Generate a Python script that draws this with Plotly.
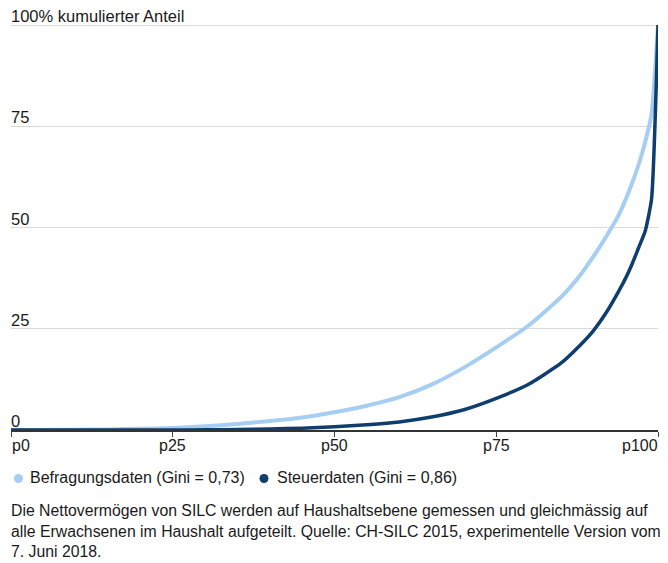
import plotly.graph_objects as go

# ---- data ----
percentiles = [0, 5, 10, 15, 20, 25, 30, 35, 40, 45, 50, 55, 60, 65, 70, 75, 80, 85, 88, 90, 92, 94, 95, 96, 97, 98, 99, 100]
befragung = [0, 0.02, 0.06, 0.15, 0.3, 0.5, 0.9, 1.5, 2.2, 3.1, 4.4, 6.0, 8.1, 11.2, 15.4, 20.4, 25.8, 32.8, 38.3, 42.8, 47.8, 53.3, 56.9, 61.0, 65.5, 71.0, 78.0, 100]
steuer = [0, 0, 0, 0, 0, 0, 0.05, 0.12, 0.25, 0.45, 0.8, 1.3, 2.0, 3.2, 5.0, 7.8, 11.3, 16.5, 21.0, 24.5, 29.0, 34.5, 37.5, 41.0, 45.0, 49.0, 57.0, 100]

x_tickvals = [0, 25, 50, 75, 100]
x_ticktext = ["p0", "p25", "p50", "p75", "p100"]
y_tickvals = [0, 25, 50, 75, 100]
y_ticktext = ["0", "25", "50", "75", "100% kumulierter Anteil"]

series_names = ["Befragungsdaten (Gini = 0,73)", "Steuerdaten (Gini = 0,86)"]
caption = ("Die Nettovermögen von SILC werden auf Haushaltsebene gemessen und gleichmässig auf<br>"
           "alle Erwachsenen im Haushalt aufgeteilt. Quelle: CH-SILC 2015, experimentelle Version vom<br>"
           "7. Juni 2018.")

# ---- style ----
LIGHT = "#a6cef3"
DARK = "#0f3e6e"
TEXT = "#1a1a1a"
FONT = "Liberation Sans, Arial, sans-serif"
OFF = 8                      # page body margin
W, H = 668 - OFF, 563 - OFF
Y_TOP = 100.5
PX_PER_UNIT = 4.05
ML, MR = 11 - OFF, 10
PH = PX_PER_UNIT * Y_TOP
MB = 133
MT = H - MB - PH
PW = W - ML - MR
ZERO_Y = H - MB             # figure coords of y=0

def px_to_paper_x(px):      # px in reference (window) coordinates
    return (px - OFF - ML) / PW

def px_to_paper_y(py):
    return (ZERO_Y - (py - OFF)) / PH

fig = go.Figure()
fig.add_trace(go.Scatter(x=percentiles, y=befragung, mode="lines",
                         line=dict(color=LIGHT, width=4, shape="spline", smoothing=0.5),
                         name=series_names[0], showlegend=False, hoverinfo="skip"))
fig.add_trace(go.Scatter(x=percentiles, y=steuer, mode="lines",
                         line=dict(color=DARK, width=3.5, shape="spline", smoothing=0.5),
                         name=series_names[1], showlegend=False, hoverinfo="skip"))

annotations = []
for v, t in zip(y_tickvals, y_ticktext):
    annotations.append(dict(x=0, xref="paper", y=v, yref="y", text=t, showarrow=False,
                            xanchor="left", yanchor="bottom", xshift=-2, yshift=-2,
                            font=dict(family=FONT, size=16.5, color=TEXT)))
for i, (v, t) in enumerate(zip(x_tickvals, x_ticktext)):
    anchor = "left" if i == 0 else ("right" if i == len(x_tickvals) - 1 else "center")
    annotations.append(dict(x=v, xref="x", y=0, yref="paper", text=t, showarrow=False,
                            xanchor=anchor, yanchor="top", yshift=-5,
                            xshift=(-1 if i == 0 else (2 if anchor == "right" else 0)),
                            font=dict(family=FONT, size=16, color=TEXT)))

legend_items = [(18.5, 28, LIGHT), (264, 275, DARK)]
shapes = []
for (dot_px, text_px, col), name in zip(legend_items, series_names):
    shapes.append(dict(type="circle", xref="paper", yref="paper",
                       xsizemode="pixel", ysizemode="pixel",
                       xanchor=px_to_paper_x(dot_px), yanchor=px_to_paper_y(478.5),
                       x0=-4.5, x1=4.5, y0=-4.5, y1=4.5,
                       fillcolor=col, line=dict(width=0)))
    annotations.append(dict(x=px_to_paper_x(text_px), xref="paper", y=px_to_paper_y(478), yref="paper",
                            text=name, showarrow=False, xanchor="left", yanchor="middle",
                            font=dict(family=FONT, size=16, color=TEXT)))

annotations.append(dict(x=px_to_paper_x(9), xref="paper", y=px_to_paper_y(500), yref="paper",
                        text=caption, showarrow=False, xanchor="left", yanchor="top", align="left",
                        font=dict(family=FONT, size=15.8, color=TEXT)))

fig.update_layout(
    width=W, height=H,
    margin=dict(l=ML, r=MR, t=MT, b=MB, autoexpand=False),
    paper_bgcolor="white", plot_bgcolor="white",
    showlegend=False,
    xaxis=dict(range=[0, 100], tickvals=x_tickvals, showticklabels=False,
               ticks="outside", ticklen=5, tickcolor="#444", tickwidth=1,
               showline=True, linecolor="#333", linewidth=1.5,
               showgrid=False, zeroline=False, fixedrange=True),
    yaxis=dict(range=[0, Y_TOP], tickvals=y_tickvals, showticklabels=False,
               showgrid=True, gridcolor="#d9d9d9", gridwidth=1,
               zeroline=False, showline=False, ticks="", fixedrange=True),
    annotations=annotations,
    shapes=shapes,
)

fig.write_html("out.html")
